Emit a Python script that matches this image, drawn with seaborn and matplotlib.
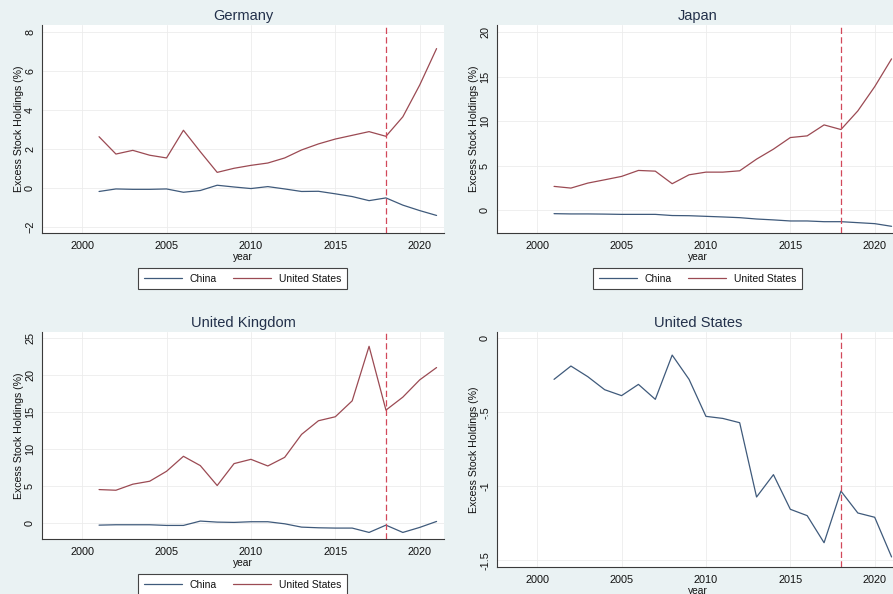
import matplotlib
matplotlib.use("Agg")
import matplotlib.pyplot as plt
from matplotlib.ticker import MultipleLocator, FixedLocator
import seaborn as sns
import pandas as pd

# ---- data -------------------------------------------------------------
years = list(range(2001, 2022))
series_names = ["China", "United States"]

germany_china = [-0.20, -0.07, -0.09, -0.09, -0.07, -0.24, -0.15, 0.12, 0.03, -0.05,
                 0.05, -0.07, -0.20, -0.19, -0.32, -0.46, -0.67, -0.53, -0.90, -1.18, -1.43]
germany_us = [2.61, 1.72, 1.91, 1.66, 1.52, 2.94, 1.84, 0.78, 0.99, 1.14,
              1.26, 1.52, 1.93, 2.24, 2.49, 2.68, 2.87, 2.63, 3.63, 5.26, 7.13]

japan_china = [-0.37, -0.40, -0.40, -0.42, -0.45, -0.45, -0.45, -0.58, -0.60, -0.67,
               -0.74, -0.82, -0.97, -1.07, -1.19, -1.19, -1.27, -1.27, -1.38, -1.49, -1.79]
japan_us = [2.69, 2.50, 3.06, 3.43, 3.81, 4.48, 4.40, 2.99, 3.99, 4.29,
            4.29, 4.44, 5.75, 6.87, 8.17, 8.36, 9.59, 9.07, 11.16, 13.88, 17.0]

uk_china = [-0.32, -0.27, -0.27, -0.27, -0.36, -0.36, 0.23, 0.09, 0.05, 0.14,
            0.14, -0.14, -0.59, -0.68, -0.72, -0.72, -1.31, -0.32, -1.31, -0.63, 0.18]
uk_us = [4.50, 4.41, 5.23, 5.63, 6.98, 9.01, 7.75, 5.05, 8.02, 8.60,
         7.70, 8.87, 11.98, 13.83, 14.37, 16.53, 23.92, 15.27, 17.03, 19.37, 21.04]

us_china = [-0.277, -0.187, -0.259, -0.347, -0.387, -0.311, -0.412, -0.113, -0.277, -0.527,
            -0.541, -0.570, -1.072, -0.921, -1.155, -1.198, -1.381, -1.032, -1.180, -1.209, -1.477]

policy_year = 2018
xtick_years = [2000, 2005, 2010, 2015, 2020]

germany_yticks = [-2, 0, 2, 4, 6, 8]
japan_yticks = [0, 5, 10, 15, 20]
uk_yticks = [0, 5, 10, 15, 20, 25]
us_yticks = [0, -0.5, -1, -1.5]
us_yticklabels = ["0", "-.5", "-1", "-1.5"]

# ---- style ------------------------------------------------------------
sns.set_style("white")
plt.rcParams["font.family"] = ["Liberation Sans", "DejaVu Sans"]

W, H = 893, 594
BG = "#eaf2f3"
palette = {"China": "#3f5a7b", "United States": "#9b4a53"}
AXIS_COLOR = "#3a3a3a"

fig = plt.figure(figsize=(W / 100, H / 100), dpi=100)
fig.patch.set_facecolor(BG)


def rect(left, top, right, bottom):
    """Axes rectangle from pixel edges measured from the top-left corner."""
    return [left / W, (H - bottom) / H, (right - left) / W, (bottom - top) / H]


def long_frame(china, us=None):
    rows = [{"year": y, "value": v, "series": "China"} for y, v in zip(years, china)]
    if us is not None:
        rows += [{"year": y, "value": v, "series": "United States"} for y, v in zip(years, us)]
    return pd.DataFrame(rows)


panels = [
    dict(title="Germany", china=germany_china, us=germany_us,
         box=(42, 25, 444, 233), ylim=(-2.33, 8.34), yticks=germany_yticks,
         ylabels=None, legend_top=268),
    dict(title="Japan", china=japan_china, us=japan_us,
         box=(497, 25, 899, 233), ylim=(-2.54, 20.8), yticks=japan_yticks,
         ylabels=None, legend_top=268),
    dict(title="United Kingdom", china=uk_china, us=uk_us,
         box=(42, 332, 444, 539), ylim=(-2.2, 25.86), yticks=uk_yticks,
         ylabels=None, legend_top=574),
    dict(title="United States", china=us_china, us=None,
         box=(497, 332, 899, 567), ylim=(-1.545, 0.043), yticks=us_yticks,
         ylabels=us_yticklabels, legend_top=None),
]

for p in panels:
    ax = fig.add_axes(rect(*p["box"]))
    ax.set_facecolor("white")
    df = long_frame(p["china"], p["us"])
    present = [s for s in series_names if s in set(df["series"])]
    sns.lineplot(data=df, x="year", y="value", hue="series", hue_order=present,
                 palette=palette, linewidth=0.9, ax=ax, legend=True)
    ax.axvline(policy_year, color="#d2485a", linewidth=0.9, linestyle=(0, (5, 2.6)))

    ax.set_xlim(1997.62, 2021.44)
    ax.set_ylim(*p["ylim"])
    ax.xaxis.set_major_locator(FixedLocator(xtick_years))
    ax.xaxis.set_minor_locator(MultipleLocator(1))
    ax.set_yticks(p["yticks"])
    if p["ylabels"] is not None:
        ax.set_yticklabels(p["ylabels"])

    ax.grid(True, which="major", color="#ececec", linewidth=0.6)
    for side in ("top", "right"):
        ax.spines[side].set_visible(False)
    for side in ("left", "bottom"):
        ax.spines[side].set_color(AXIS_COLOR)
        ax.spines[side].set_linewidth(0.8)

    ax.tick_params(axis="both", which="major", direction="out", length=3,
                   width=0.8, color=AXIS_COLOR, labelsize=7.8, labelcolor="#111111", pad=3)
    ax.tick_params(axis="y", which="major", pad=2)
    ax.tick_params(axis="x", which="minor", direction="out", length=2,
                   width=0.7, color=AXIS_COLOR)
    ax.tick_params(axis="y", which="minor", length=0)
    ax.tick_params(axis="y", labelrotation=90)
    for lab in ax.get_yticklabels():
        lab.set_va("center")

    ax.set_title(p["title"], fontsize=10.5, color="#22304a", pad=3.5)
    ax.set_xlabel("year", fontsize=7.4, color="#111111", labelpad=0.5)
    ax.set_ylabel("Excess Stock Holdings (%)", fontsize=7.6, color="#111111", labelpad=0.8)

    handles, labels = ax.get_legend_handles_labels()
    ax.get_legend().remove()
    if p["legend_top"] is not None:
        left = p["box"][0]
        cx = left + 200.5
        leg = ax.legend(handles, labels, loc="upper center",
                        bbox_to_anchor=(cx / W, (H - p["legend_top"]) / H),
                        bbox_transform=fig.transFigure, ncol=2, frameon=True,
                        fancybox=False, edgecolor="#444444", framealpha=1,
                        fontsize=7.5, handlelength=3.65, handletextpad=0.75,
                        columnspacing=1.6, borderpad=0.55, borderaxespad=0)
        leg.get_frame().set_linewidth(0.8)
        for t in leg.get_texts():
            t.set_color("#111111")

fig.savefig("out.png", dpi=100, facecolor=BG)
